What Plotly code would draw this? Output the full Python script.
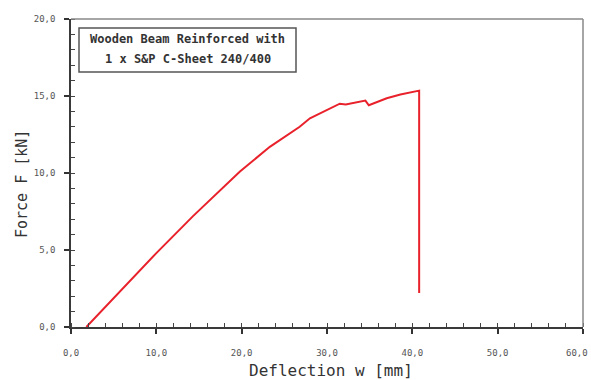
import plotly.graph_objects as go

# Data
deflection_mm = [1.8, 5.4, 10.0, 14.3, 19.8, 23.3, 26.8, 28.0, 30.75, 31.5, 32.2,
                 34.1, 34.5, 34.9, 37.0, 38.6, 40.7, 40.8, 40.8]
force_kN = [0.0, 2.1, 4.8, 7.2, 10.1, 11.7, 13.0, 13.55, 14.3, 14.5, 14.45,
            14.65, 14.7, 14.4, 14.85, 15.1, 15.3, 15.35, 2.2]

x_ticks = [0, 10, 20, 30, 40, 50, 60]
x_ticklabels = ["0,0", "10,0", "20,0", "30,0", "40,0", "50,0", "60,0"]
y_ticks = [0, 5, 10, 15, 20]
y_ticklabels = ["0,0", "5,0", "10,0", "15,0", "20,0"]

legend_lines = ["Wooden Beam Reinforced with", "1 x S&P C-Sheet 240/400"]

MONO = "DejaVu Sans Mono"

fig = go.Figure()
fig.add_trace(go.Scatter(x=deflection_mm, y=force_kN, mode="lines",
                         line=dict(color="#e8212b", width=2), showlegend=False))

def main_axis(vals, labels, minor_step, standoff, blank_last):
    tt = labels[:-1] + [""] if blank_last else labels
    return dict(range=[vals[0], vals[-1]], tickmode="array", tickvals=vals, ticktext=tt,
                showgrid=False, zeroline=False, showline=True,
                linecolor="#3a3a3a", linewidth=1.5,
                ticks="outside", ticklen=5, tickwidth=1.5, tickcolor="#333",
                ticklabelstandoff=standoff,
                tickfont=dict(family=MONO, size=9, color="#555"),
                minor=dict(ticks="inside", ticklen=4, tickcolor="#444", tickwidth=1,
                           tickmode="linear", tick0=0, dtick=minor_step))

fig.update_layout(
    width=591, height=380,
    margin=dict(l=71, r=8, t=19, b=53),
    paper_bgcolor="white", plot_bgcolor="white",
    xaxis=main_axis(x_ticks, x_ticklabels, 2, 11, True),
    yaxis=main_axis(y_ticks, y_ticklabels, 1, 7, False),
)

# last x tick label, kept inside the page
fig.add_annotation(xref="x", yref="paper", x=x_ticks[-1], y=-(353-327)/308,
                   text=x_ticklabels[-1], showarrow=False, xanchor="right", yanchor="middle",
                   xshift=7, font=dict(family=MONO, size=9, color="#555"))

# top and right frame lines
fig.add_shape(type="line", xref="paper", yref="paper", x0=0, x1=1, y0=1, y1=1,
              line=dict(color="#888", width=1.5))
fig.add_shape(type="line", xref="paper", yref="paper", x0=1, x1=1, y0=0, y1=1,
              line=dict(color="#888", width=1.5))

# legend box
fig.add_shape(type="rect", xref="paper", yref="paper",
              x0=8/512, x1=225/512, y0=(327-72)/308, y1=(327-28)/308,
              line=dict(color="#555", width=1.5), fillcolor="white")
for i, txt in enumerate(legend_lines):
    fig.add_annotation(xref="paper", yref="paper", x=116.5/512,
                       y=(327-(38.5+i*21))/308, text="<b>"+txt+"</b>",
                       showarrow=False, xanchor="center", yanchor="middle",
                       font=dict(family=MONO, size=12, color="#333"))

# axis titles
fig.add_annotation(xref="paper", yref="paper", x=(331-71)/512, y=-(370-327)/308,
                   text="Deflection w [mm]", showarrow=False, xanchor="center",
                   yanchor="middle", font=dict(family=MONO, size=16, color="#333"))
fig.add_annotation(xref="paper", yref="paper", x=-(71-22)/512, y=(327-184)/308,
                   text="Force F [kN]", showarrow=False, textangle=-90,
                   xanchor="center", yanchor="middle",
                   font=dict(family=MONO, size=15, color="#333"))

fig.write_html("out.html")
